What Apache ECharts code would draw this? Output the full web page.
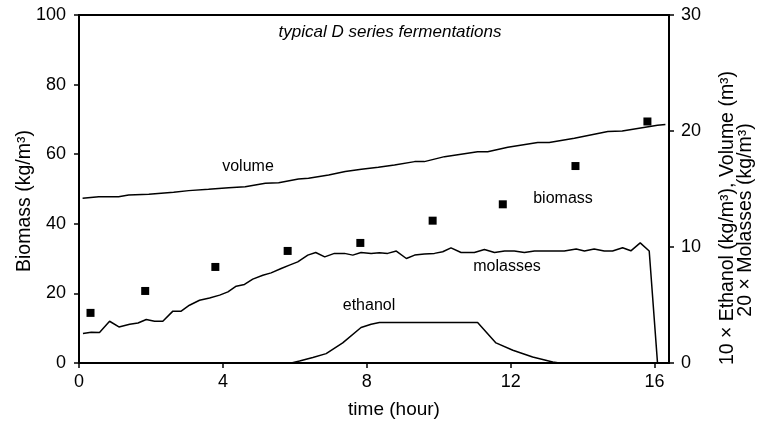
<!DOCTYPE html>
<html>
<head>
<meta charset="utf-8">
<script src="https://cdn.jsdelivr.net/npm/echarts@6/dist/echarts.min.js"></script>
<style>html,body{margin:0;padding:0;background:#fff}#c{width:759px;height:424px}</style>
</head>
<body>
<div id="c"></div>
<script>
// ---- data ----
const xTicks = [0, 4, 8, 12, 16];
const biomassTime = [0.32, 1.84, 3.79, 5.8, 7.82, 9.83, 11.78, 13.8, 15.8];
const biomassValues = [14.4, 20.7, 27.6, 32.2, 34.5, 40.9, 45.6, 56.6, 69.4];

const volumeTime = [0.1, 0.55, 1.1, 1.38, 1.94, 2.63, 3.05, 3.6, 4.16, 4.62, 5.18, 5.55, 6.1, 6.38, 6.94, 7.4, 7.85, 8.32, 8.77, 9.33, 9.6, 10.16, 11.08, 11.36, 11.92, 12.75, 13.07, 13.77, 14.7, 15.1, 16.08, 16.3];
const volumeValues = [14.2, 14.34, 14.34, 14.48, 14.54, 14.71, 14.86, 14.97, 15.1, 15.2, 15.49, 15.54, 15.86, 15.92, 16.2, 16.5, 16.7, 16.87, 17.07, 17.36, 17.36, 17.79, 18.22, 18.22, 18.6, 19.0, 19.0, 19.38, 19.95, 20.0, 20.5, 20.55];

const molassesTime = [0.11, 0.34, 0.57, 0.85, 1.11, 1.41, 1.64, 1.87, 2.1, 2.33, 2.61, 2.84, 3.07, 3.35, 3.63, 3.91, 4.14, 4.37, 4.6, 4.83, 5.11, 5.34, 5.62, 5.85, 6.08, 6.36, 6.58, 6.83, 7.1, 7.38, 7.61, 7.84, 8.12, 8.35, 8.58, 8.82, 9.1, 9.33, 9.6, 9.88, 10.11, 10.34, 10.62, 10.99, 11.27, 11.55, 11.83, 12.1, 12.38, 12.66, 12.94, 13.21, 13.49, 13.82, 14.05, 14.32, 14.6, 14.83, 15.11, 15.34, 15.6, 15.85, 16.08, 16.3];
const molassesValues = [2.54, 2.65, 2.62, 3.6, 3.11, 3.34, 3.45, 3.75, 3.6, 3.6, 4.47, 4.47, 4.98, 5.41, 5.61, 5.85, 6.13, 6.62, 6.77, 7.23, 7.57, 7.77, 8.15, 8.44, 8.72, 9.3, 9.53, 9.15, 9.45, 9.45, 9.3, 9.53, 9.45, 9.5, 9.45, 9.65, 9.01, 9.3, 9.39, 9.45, 9.59, 9.93, 9.53, 9.53, 9.79, 9.53, 9.65, 9.65, 9.53, 9.65, 9.65, 9.65, 9.65, 9.82, 9.65, 9.82, 9.65, 9.65, 9.93, 9.67, 10.36, 9.65, 0.03, 0];

const ethanolTime = [0.1, 5.9, 6.13, 6.5, 6.87, 7.33, 7.84, 8.12, 8.35, 11.08, 11.59, 12.06, 12.61, 13.17, 13.35, 16.3];
const ethanolValues = [0, 0, 0.17, 0.47, 0.81, 1.73, 3.06, 3.34, 3.49, 3.49, 1.73, 1.1, 0.52, 0.09, 0, 0];

const zip = (a, b) => a.map((t, i) => [t, b[i]]);
const FONT = "'Liberation Sans', Arial, Helvetica, sans-serif";

const chart = echarts.init(document.getElementById('c'), null, {renderer: 'canvas'});
const lineStyle = {color: '#000', width: 1.5};
chart.setOption({
  animation: false,
  backgroundColor: '#fff',
  grid: {left: 79, right: 90, top: 15, bottom: 61, show: true, borderColor: '#000', borderWidth: 2, backgroundColor: 'transparent'},
  xAxis: {
    type: 'value', min: 0, max: 16.4, interval: 4,
    axisLine: {show: true, lineStyle: {color: '#000', width: 2}},
    axisTick: {show: true, length: 5, customValues: xTicks, lineStyle: {color: '#000', width: 1.5}},
    axisLabel: {customValues: xTicks, color: '#000', fontSize: 18, fontFamily: FONT, margin: 10},
    splitLine: {show: false}
  },
  yAxis: [{
    type: 'value', min: 0, max: 100, interval: 20, position: 'left',
    axisLine: {show: true, lineStyle: {color: '#000', width: 2}},
    axisTick: {show: true, length: 5, lineStyle: {color: '#000', width: 1.5}},
    axisLabel: {color: '#000', fontSize: 18, fontFamily: FONT, margin: 13},
    splitLine: {show: false}
  }, {
    type: 'value', min: 0, max: 30, interval: 10, position: 'right',
    axisLine: {show: true, lineStyle: {color: '#000', width: 2}},
    axisTick: {show: true, length: 5, lineStyle: {color: '#000', width: 1.5}},
    axisLabel: {color: '#000', fontSize: 18, fontFamily: FONT, margin: 12},
    splitLine: {show: false}
  }],
  series: [{
    name: 'volume', type: 'line', yAxisIndex: 1, data: zip(volumeTime, volumeValues),
    showSymbol: false, lineStyle: lineStyle, z: 3
  }, {
    name: 'molasses', type: 'line', yAxisIndex: 1, data: zip(molassesTime, molassesValues),
    showSymbol: false, lineStyle: lineStyle, z: 3
  }, {
    name: 'ethanol', type: 'line', yAxisIndex: 1, data: zip(ethanolTime, ethanolValues),
    showSymbol: false, lineStyle: lineStyle, z: 3
  }, {
    name: 'biomass', type: 'scatter', yAxisIndex: 0, data: zip(biomassTime, biomassValues),
    symbol: 'rect', symbolSize: 8, itemStyle: {color: '#000', opacity: 1}, z: 4
  }],
  graphic: [
    {type: 'text', x: 390, y: 32, style: {text: 'typical D series fermentations', font: 'italic 17px ' + FONT, fill: '#000', textAlign: 'center', textVerticalAlign: 'middle'}},
    {type: 'text', x: 248, y: 167, style: {text: 'volume', font: '16px ' + FONT, fill: '#000', textAlign: 'center', textVerticalAlign: 'middle'}},
    {type: 'text', x: 563, y: 199, style: {text: 'biomass', font: '16px ' + FONT, fill: '#000', textAlign: 'center', textVerticalAlign: 'middle'}},
    {type: 'text', x: 507, y: 267, style: {text: 'molasses', font: '16px ' + FONT, fill: '#000', textAlign: 'center', textVerticalAlign: 'middle'}},
    {type: 'text', x: 369, y: 306, style: {text: 'ethanol', font: '16px ' + FONT, fill: '#000', textAlign: 'center', textVerticalAlign: 'middle'}},
    {type: 'text', x: 394, y: 410, style: {text: 'time (hour)', font: '19px ' + FONT, fill: '#000', textAlign: 'center', textVerticalAlign: 'middle'}},
    {type: 'text', x: 25, y: 201, rotation: Math.PI / 2, style: {text: 'Biomass (kg/m³)', font: '19.5px ' + FONT, fill: '#000', textAlign: 'center', textVerticalAlign: 'middle'}},
    {type: 'text', x: 728, y: 218, rotation: Math.PI / 2, style: {text: '10 × Ethanol (kg/m³), Volume (m³)', font: '19.5px ' + FONT, fill: '#000', textAlign: 'center', textVerticalAlign: 'middle'}},
    {type: 'text', x: 746, y: 220, rotation: Math.PI / 2, style: {text: '20 × Molasses (kg/m³)', font: '19.5px ' + FONT, fill: '#000', textAlign: 'center', textVerticalAlign: 'middle'}}
  ]
});
</script>
</body>
</html>
